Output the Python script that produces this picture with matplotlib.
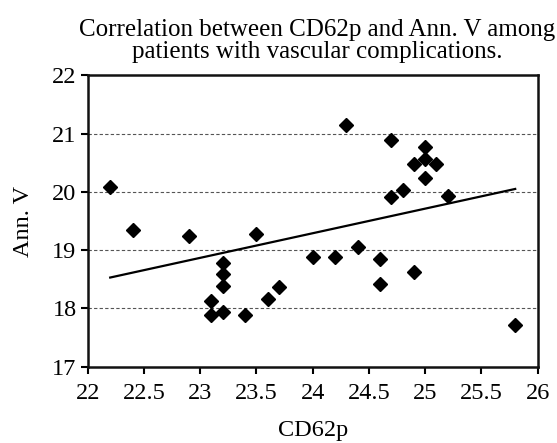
import matplotlib
matplotlib.use("Agg")
import matplotlib.pyplot as plt

cd62p = [22.2, 22.4, 22.9, 23.5, 23.2, 23.2, 23.2, 23.1, 23.1, 23.2,
         23.4, 23.6, 23.7, 24.0, 24.2, 24.4, 24.6, 24.6, 24.9, 25.8,
         24.3, 24.7, 25.0, 24.9, 25.0, 25.1, 25.0, 24.8, 24.7, 25.2]
ann_v = [20.08, 19.35, 19.24, 19.28, 18.78, 18.59, 18.39, 18.13, 17.88, 17.93,
         17.88, 18.16, 18.37, 18.88, 18.88, 19.05, 18.85, 18.42, 18.63, 17.72,
         21.15, 20.89, 20.77, 20.48, 20.56, 20.48, 20.24, 20.03, 19.91, 19.93]
trend_x = [22.2, 25.8]
trend_y = [18.53, 20.05]
x_ticks = [22, 22.5, 23, 23.5, 24, 24.5, 25, 25.5, 26]
x_tick_labels = ["22", "22.5", "23", "23.5", "24", "24.5", "25", "25.5", "26"]
y_ticks = [17, 18, 19, 20, 21, 22]
y_tick_labels = ["17", "18", "19", "20", "21", "22"]
title = "Correlation between CD62p and Ann. V among\npatients with vascular complications."

plt.rcParams['font.family'] = ['Liberation Serif', 'DejaVu Serif']

fig = plt.figure(figsize=(5.57, 4.43), dpi=100)
ax = fig.add_axes([87.7/557, 1-366.7/443, 450/557, 291.4/443])

ax.set_xlim(22, 26)
ax.set_ylim(17, 22)
for yv in [18, 19, 20, 21]:
    ax.axhline(yv, color='#555555', linestyle=(0, (3, 2)), linewidth=0.8, zorder=1)

ax.plot(trend_x, trend_y, color='black', linewidth=1.6, zorder=2)
ax.plot(cd62p, ann_v, linestyle='none', marker='D', markersize=6.8,
        color='black', zorder=3)

ax.set_xticks(x_ticks)
ax.set_xticklabels(x_tick_labels)
ax.set_yticks(y_ticks)
ax.set_yticklabels(y_tick_labels)
ax.tick_params(direction='out', length=5, width=1.5, labelsize=17.5, colors='black')
ax.tick_params(axis='x', pad=6.5)
ax.tick_params(axis='y', pad=3)
for s in ax.spines.values():
    s.set_linewidth(1.8)
    s.set_color('#111111')

ax.set_xlabel("CD62p", fontsize=17.5, labelpad=12)
ax.set_ylabel("Ann. V", fontsize=17.5, labelpad=13)
fig.text(317/557, 1-19/443, title, ha='center', va='top', fontsize=18, linespacing=1.02)

fig.savefig("out.png", dpi=100)
